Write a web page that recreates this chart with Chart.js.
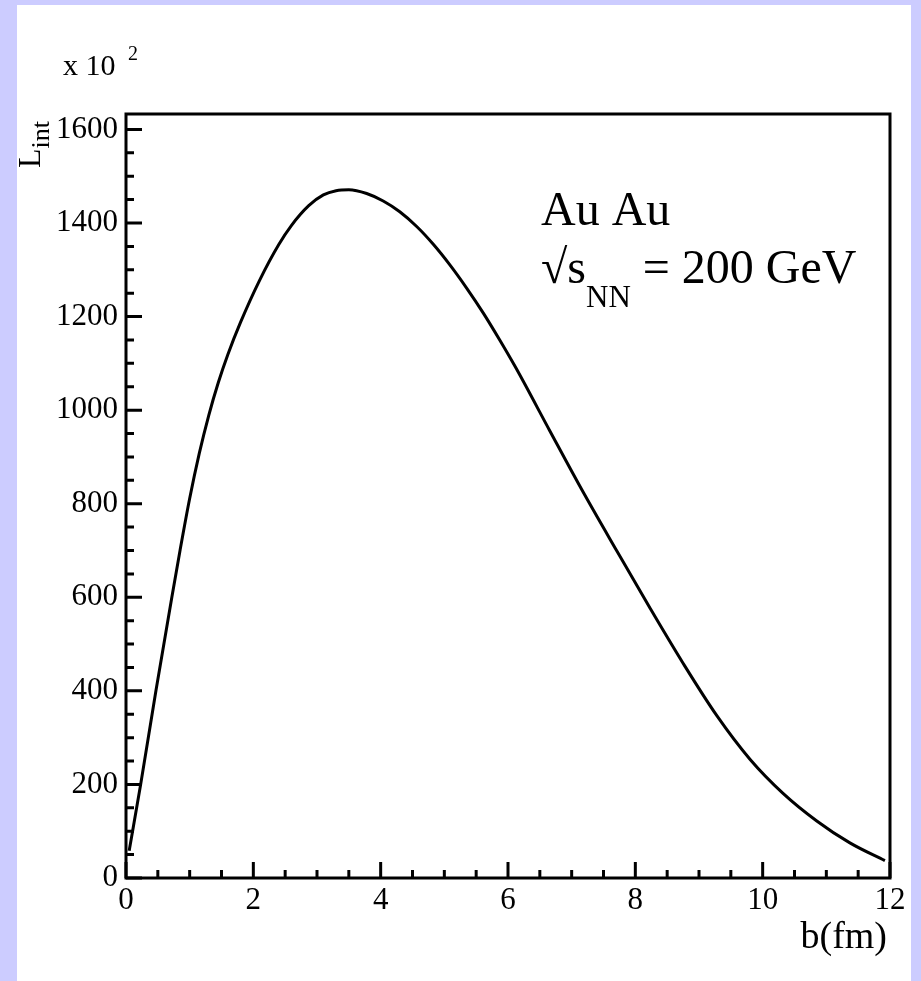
<!DOCTYPE html>
<html>
<head>
<meta charset="utf-8">
<script src="https://cdn.jsdelivr.net/npm/chart.js"></script>
<style>
html, body { margin: 0; padding: 0; background: #ccccff; }
#wrap { position: absolute; left: 17px; top: 5px; width: 894px; height: 976px; background: #fff; }
</style>
</head>
<body>
<div id="wrap"><canvas id="lumiChart" width="894" height="976"></canvas></div>
<script>
"use strict";

// impact parameter b (fm)
const impactB = [0.05, 0.23, 0.47, 0.72, 0.85, 1.0, 1.15, 1.3, 1.45, 1.6, 1.8, 2.1, 2.4, 2.6, 2.87, 3.1, 3.3, 3.5,
    3.78, 4.04, 4.3, 4.57, 4.83, 5.09, 5.35, 5.61, 5.87, 6.13, 6.66, 7.18, 7.71, 8.23, 8.75,
    9.28, 9.8, 10.32, 10.85, 11.37, 11.92];
// integrated luminosity, units of 10^2
const lumiInt = [58, 200, 400, 600, 701, 811, 907, 989, 1059, 1119, 1188, 1278, 1354, 1395, 1437, 1460, 1469, 1471,
    1463, 1447, 1424, 1392, 1354, 1310, 1261, 1208, 1150, 1089, 955, 825, 699, 577, 459,
    347, 254, 181, 122, 75, 37];

const xTicks = [0, 2, 4, 6, 8, 10, 12];
const yTicks = [0, 200, 400, 600, 800, 1000, 1200, 1400, 1600];
const xMinorStep = 0.5;
const yMinorStep = 50;

const serif = "'Liberation Serif', 'DejaVu Serif', serif";

// ROOT style frame with inward ticks + text labels
const framePlugin = {
    id: 'frame',
    afterDraw(chart) {
        const ctx = chart.ctx;
        const a = chart.chartArea;
        const xs = chart.scales.x;
        const ys = chart.scales.y;
        ctx.save();
        ctx.strokeStyle = '#000';
        ctx.lineWidth = 3;
        ctx.lineCap = 'butt';
        ctx.strokeRect(a.left, a.top, a.right - a.left, a.bottom - a.top);

        ctx.beginPath();
        for (let v = xs.min; v <= xs.max + 1e-9; v += xMinorStep) {
            const px = xs.getPixelForValue(v);
            const len = xTicks.includes(v) ? 16 : 8;
            ctx.moveTo(px, a.bottom);
            ctx.lineTo(px, a.bottom - len);
        }
        for (let v = 0; v <= ys.max; v += yMinorStep) {
            const py = ys.getPixelForValue(v);
            const len = yTicks.includes(v) ? 16 : 8;
            ctx.moveTo(a.left, py);
            ctx.lineTo(a.left + len, py);
        }
        ctx.stroke();

        ctx.fillStyle = '#000';
        ctx.textBaseline = 'alphabetic';

        // axis multiplier
        ctx.textAlign = 'left';
        ctx.font = '30px ' + serif;
        ctx.fillText('x 10', 46, 70);
        ctx.font = '20px ' + serif;
        ctx.fillText('2', 111, 55);

        // x title
        ctx.textAlign = 'right';
        ctx.font = '38px ' + serif;
        ctx.fillText('b(fm)', 870, 943);

        // y title, rotated
        ctx.save();
        ctx.translate(23, 163);
        ctx.rotate(-Math.PI / 2);
        ctx.textAlign = 'left';
        ctx.font = '32px ' + serif;
        ctx.fillText('L', 0, 0);
        const lw = ctx.measureText('L').width;
        ctx.font = '26px ' + serif;
        ctx.fillText('int', lw, 9);
        ctx.restore();

        // collision system
        ctx.textAlign = 'left';
        ctx.font = '48px ' + serif;
        ctx.fillText('Au Au', 524, 220);
        let x = 524;
        ctx.fillText('\u221As', x, 278);
        x += ctx.measureText('\u221As').width;
        ctx.font = '31px ' + serif;
        ctx.fillText('NN', x, 302);
        x += ctx.measureText('NN').width;
        ctx.font = '48px ' + serif;
        ctx.fillText(' = 200 GeV', x, 278);
        ctx.restore();
    }
};

const ctx = document.getElementById('lumiChart').getContext('2d');
const lumiChart = new Chart(ctx, {
    type: 'line',
    data: {
        datasets: [{
            data: impactB.map((b, i) => ({ x: b, y: lumiInt[i] })),
            borderColor: '#000',
            borderWidth: 3,
            pointRadius: 0,
            fill: false,
            cubicInterpolationMode: 'monotone'
        }]
    },
    options: {
        responsive: false,
        animation: false,
        layout: { padding: { top: 109, right: 21, left: 0, bottom: 0 } },
        plugins: {
            legend: { display: false },
            tooltip: { enabled: false }
        },
        scales: {
            x: {
                type: 'linear',
                min: 0,
                max: 12,
                afterBuildTicks: (scale) => { scale.ticks = xTicks.map(v => ({ value: v })); },
                afterFit: (scale) => { scale.height = 103; },
                grid: { display: false, drawTicks: false },
                border: { display: false },
                ticks: { color: '#000', padding: 4, maxRotation: 0, callback: (v) => String(v),
                    font: { family: serif, size: 31 } }
            },
            y: {
                min: 0,
                max: 1633,
                afterBuildTicks: (scale) => { scale.ticks = yTicks.map(v => ({ value: v })); },
                afterFit: (scale) => { scale.width = 109; },
                grid: { display: false, drawTicks: false },
                border: { display: false },
                ticks: { color: '#000', padding: 8, callback: (v) => String(v),
                    font: { family: serif, size: 31 } }
            }
        }
    },
    plugins: [framePlugin]
});
</script>
</body>
</html>
